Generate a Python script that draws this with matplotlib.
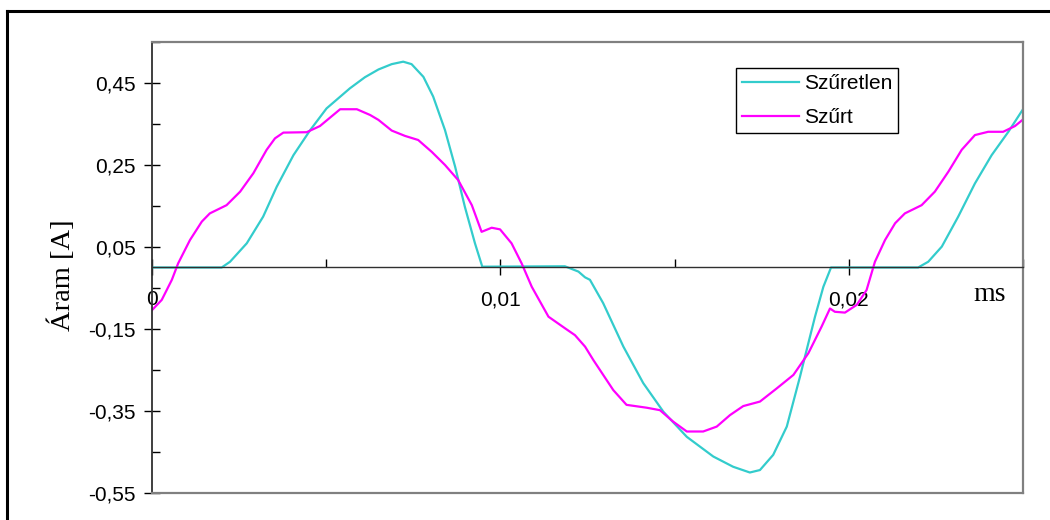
import numpy as np
import matplotlib
matplotlib.use("Agg")
import matplotlib.pyplot as plt
from matplotlib.lines import Line2D
from matplotlib.ticker import FixedLocator, FixedFormatter

# Szűretlen (unfiltered) current
t_raw = [0.0, 0.00200, 0.00224, 0.00272, 0.00319, 0.00358, 0.00406, 0.00454,
         0.00501, 0.00568, 0.00611, 0.00650, 0.00688, 0.00721, 0.00745, 0.00779,
         0.00807, 0.00841, 0.00870, 0.00898, 0.00927, 0.00948, 0.01185, 0.01224,
         0.01243, 0.01257, 0.01295, 0.01353, 0.01410, 0.01468, 0.01535, 0.01611,
         0.01668, 0.01716, 0.01745, 0.01783, 0.01822, 0.01860, 0.01874, 0.01903,
         0.01927, 0.01949, 0.02199, 0.02228, 0.02267, 0.02314, 0.02362, 0.02410,
         0.02458, 0.02500]
i_raw = [0.0, 0.0, 0.014, 0.059, 0.124, 0.197, 0.274, 0.335,
         0.388, 0.437, 0.464, 0.483, 0.496, 0.502, 0.496, 0.465,
         0.417, 0.335, 0.246, 0.148, 0.059, 0.002, 0.003, -0.010,
         -0.024, -0.030, -0.087, -0.193, -0.282, -0.352, -0.413, -0.461,
         -0.486, -0.500, -0.494, -0.457, -0.388, -0.266, -0.218, -0.120,
         -0.047, 0.0, 0.0, 0.014, 0.051, 0.124, 0.205, 0.274,
         0.331, 0.386]

# Szűrt (filtered) current
t_flt = [0.0, 0.00028, 0.00057, 0.00075, 0.00109, 0.00143, 0.00166, 0.00214,
         0.00253, 0.00291, 0.00329, 0.00353, 0.00377, 0.00444, 0.00482, 0.00540,
         0.00588, 0.00626, 0.00650, 0.00688, 0.00726, 0.00764, 0.00803, 0.00841,
         0.00879, 0.00918, 0.00946, 0.00975, 0.00999, 0.01032, 0.01061, 0.01090,
         0.01138, 0.01185, 0.01214, 0.01243, 0.01267, 0.01324, 0.01362, 0.01420,
         0.01458, 0.01496, 0.01535, 0.01582, 0.01621, 0.01659, 0.01697, 0.01745,
         0.01793, 0.01841, 0.01884, 0.01922, 0.01946, 0.01960, 0.01989, 0.02023,
         0.02051, 0.02075, 0.02104, 0.02133, 0.02161, 0.02209, 0.02247, 0.02286,
         0.02324, 0.02362, 0.02400, 0.02443, 0.02477, 0.02500]
i_flt = [-0.104, -0.079, -0.030, 0.010, 0.067, 0.112, 0.132, 0.152,
         0.185, 0.230, 0.287, 0.315, 0.329, 0.330, 0.345, 0.386,
         0.386, 0.372, 0.360, 0.334, 0.321, 0.311, 0.282, 0.250,
         0.213, 0.152, 0.087, 0.097, 0.093, 0.059, 0.010, -0.047,
         -0.120, -0.148, -0.165, -0.193, -0.226, -0.299, -0.335, -0.342,
         -0.348, -0.376, -0.400, -0.400, -0.388, -0.360, -0.338, -0.327,
         -0.295, -0.262, -0.209, -0.144, -0.100, -0.108, -0.110, -0.091,
         -0.055, 0.014, 0.067, 0.108, 0.132, 0.152, 0.185, 0.234,
         0.287, 0.323, 0.331, 0.331, 0.345, 0.361]

series_names = ["Szűretlen", "Szűrt"]
x_major = [0.0, 0.01, 0.02]
x_major_labels = ["0", "0,01", "0,02"]
x_minor = [0.005, 0.015, 0.025]
y_major = [-0.55, -0.35, -0.15, 0.05, 0.25, 0.45]
y_major_labels = ["-0,55", "-0,35", "-0,15", "0,05", "0,25", "0,45"]
y_minor = [-0.45, -0.25, -0.05, 0.15, 0.35, 0.55]

plt.rcParams['font.family'] = ['Liberation Sans', 'DejaVu Sans']

fig = plt.figure(figsize=(10.5, 5.2), dpi=100)
W, H = 1050, 520
ax = fig.add_axes([152 / W, 1 - 493 / H, (1023 - 152) / W, (493 - 42) / H])

ax.plot(t_raw, i_raw, color="#33CCCC", lw=1.6, label=series_names[0])
ax.plot(t_flt, i_flt, color="#FF00FF", lw=1.6, label=series_names[1])

ax.set_xlim(0, 0.025)
ax.set_ylim(-0.55, 0.55)

# frame: gray top/right/bottom, dark left, x axis through zero
grey = "#808080"
for s in ["top", "right"]:
    ax.spines[s].set_color(grey)
    ax.spines[s].set_linewidth(1.6)
ax.spines["left"].set_color("#303030")
ax.spines["left"].set_linewidth(1.3)
ax.spines["bottom"].set_position(("data", 0))
ax.spines["bottom"].set_color("#303030")
ax.spines["bottom"].set_linewidth(1.0)
ax.plot([0, 1], [0, 0], transform=ax.transAxes, color=grey, lw=1.6,
        clip_on=False, zorder=3)

ax.xaxis.set_major_locator(FixedLocator(x_major))
ax.xaxis.set_major_formatter(FixedFormatter(x_major_labels))
ax.xaxis.set_minor_locator(FixedLocator(x_minor))
ax.yaxis.set_major_locator(FixedLocator(y_major))
ax.yaxis.set_major_formatter(FixedFormatter(y_major_labels))
ax.yaxis.set_minor_locator(FixedLocator(y_minor))

ax.tick_params(axis="x", which="major", direction="inout", length=11, width=1,
               labelsize=15, pad=11, colors="black")
ax.tick_params(axis="x", which="minor", direction="in", length=6, width=1)
ax.tick_params(axis="y", which="major", direction="inout", length=11, width=1,
               labelsize=15, pad=6)
ax.tick_params(axis="y", which="minor", direction="in", length=6, width=1)

ax.text(0.02405, -0.067, "ms", family=["Liberation Serif", "DejaVu Serif"],
        fontsize=20, ha="center", va="center")
fig.text(62 / W, 1 - 275 / H, "Áram [A]", rotation=90,
         family=["Liberation Serif", "DejaVu Serif"], fontsize=20.5,
         ha="center", va="center")

leg = ax.legend(loc="upper left",
                bbox_to_anchor=((736 - 152) / 871, (493 - 68) / 451),
                borderaxespad=0, fontsize=15, handlelength=2.7,
                handletextpad=0.25, labelspacing=0.7, borderpad=0.3,
                fancybox=False, framealpha=1, edgecolor="black")
leg.get_frame().set_linewidth(1.0)

# outer black frame (cut at right and bottom)
fig.add_artist(Line2D([7 / W, 1.0], [1 - 11 / H, 1 - 11 / H], color="black", lw=2.2))
fig.add_artist(Line2D([7 / W, 7 / W], [0.0, 1 - 11 / H], color="black", lw=2.2))

fig.savefig("out.png", dpi=100)
